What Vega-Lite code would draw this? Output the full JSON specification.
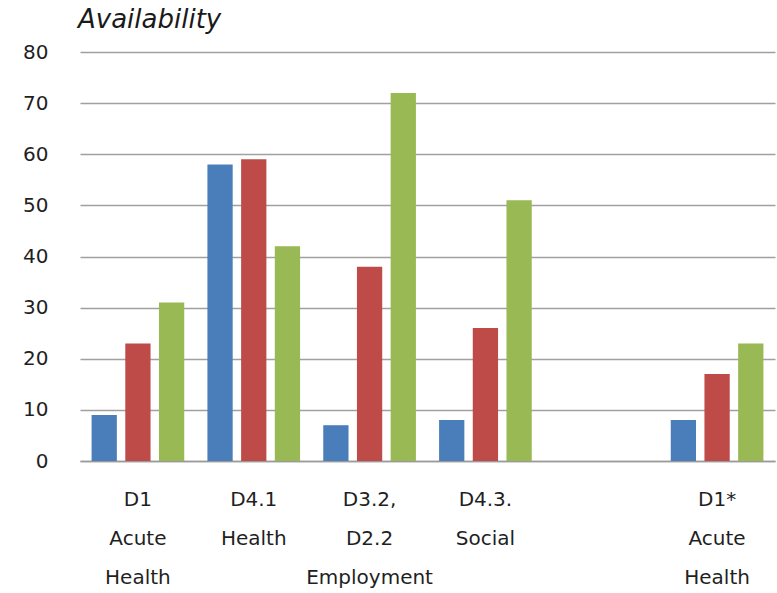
{
  "$schema": "https://vega.github.io/schema/vega-lite/v6.json",
  "width": 695,
  "height": 409,
  "autosize": {"type": "none"},
  "padding": {"left": 80, "top": 52, "right": 2, "bottom": 132},
  "background": "white",
  "title": {
    "text": "Availability",
    "anchor": "start",
    "frame": "group",
    "font": "DejaVu Sans",
    "fontSize": 26,
    "fontStyle": "italic",
    "fontWeight": "normal",
    "color": "#1a1a1a",
    "offset": 9,
    "dx": -2
  },
  "data": {
    "values": [
      {"cat": "D1|Acute|Health", "series": "1", "value": 9},
      {"cat": "D1|Acute|Health", "series": "2", "value": 23},
      {"cat": "D1|Acute|Health", "series": "3", "value": 31},
      {"cat": "D4.1|Health", "series": "1", "value": 58},
      {"cat": "D4.1|Health", "series": "2", "value": 59},
      {"cat": "D4.1|Health", "series": "3", "value": 42},
      {"cat": "D3.2,|D2.2|Employment", "series": "1", "value": 7},
      {"cat": "D3.2,|D2.2|Employment", "series": "2", "value": 38},
      {"cat": "D3.2,|D2.2|Employment", "series": "3", "value": 72},
      {"cat": "D4.3.|Social", "series": "1", "value": 8},
      {"cat": "D4.3.|Social", "series": "2", "value": 26},
      {"cat": "D4.3.|Social", "series": "3", "value": 51},
      {"cat": "D1*|Acute|Health", "series": "1", "value": 8},
      {"cat": "D1*|Acute|Health", "series": "2", "value": 17},
      {"cat": "D1*|Acute|Health", "series": "3", "value": 23}
    ]
  },
  "mark": {"type": "bar"},
  "encoding": {
    "x": {
      "field": "cat",
      "type": "nominal",
      "sort": null,
      "scale": {
        "domain": ["D1|Acute|Health", "D4.1|Health", "D3.2,|D2.2|Employment", "D4.3.|Social", "gap", "D1*|Acute|Health"],
        "paddingInner": 0.2,
        "paddingOuter": 0.1
      },
      "axis": {
        "title": null,
        "labelAngle": 0,
        "labelExpr": "datum.label == 'gap' ? '' : split(datum.label, '|')",
        "labelFont": "DejaVu Sans",
        "labelFontSize": 20,
        "labelFontWeight": "normal",
        "labelColor": "#1f1f1f",
        "labelLineHeight": 39,
        "labelPadding": 28,
        "labelBaseline": "top",
        "ticks": false,
        "domainColor": "#9a9a9a",
        "domainWidth": 1.5,
        "grid": false
      }
    },
    "xOffset": {
      "field": "series",
      "type": "nominal",
      "scale": {"paddingInner": 0.25}
    },
    "y": {
      "field": "value",
      "type": "quantitative",
      "scale": {"domain": [0, 80], "nice": false},
      "axis": {
        "title": null,
        "values": [0, 10, 20, 30, 40, 50, 60, 70, 80],
        "labelFont": "DejaVu Sans",
        "labelFontSize": 20,
        "labelFontWeight": "normal",
        "labelColor": "#1f1f1f",
        "labelPadding": 32,
        "ticks": false,
        "domain": false,
        "gridColor": "#a0a0a0",
        "gridWidth": 1.5
      }
    },
    "color": {
      "field": "series",
      "type": "nominal",
      "legend": null,
      "scale": {
        "domain": ["1", "2", "3"],
        "range": ["#4a7ebb", "#be4b48", "#98b954"]
      }
    }
  },
  "config": {"view": {"stroke": null}}
}
